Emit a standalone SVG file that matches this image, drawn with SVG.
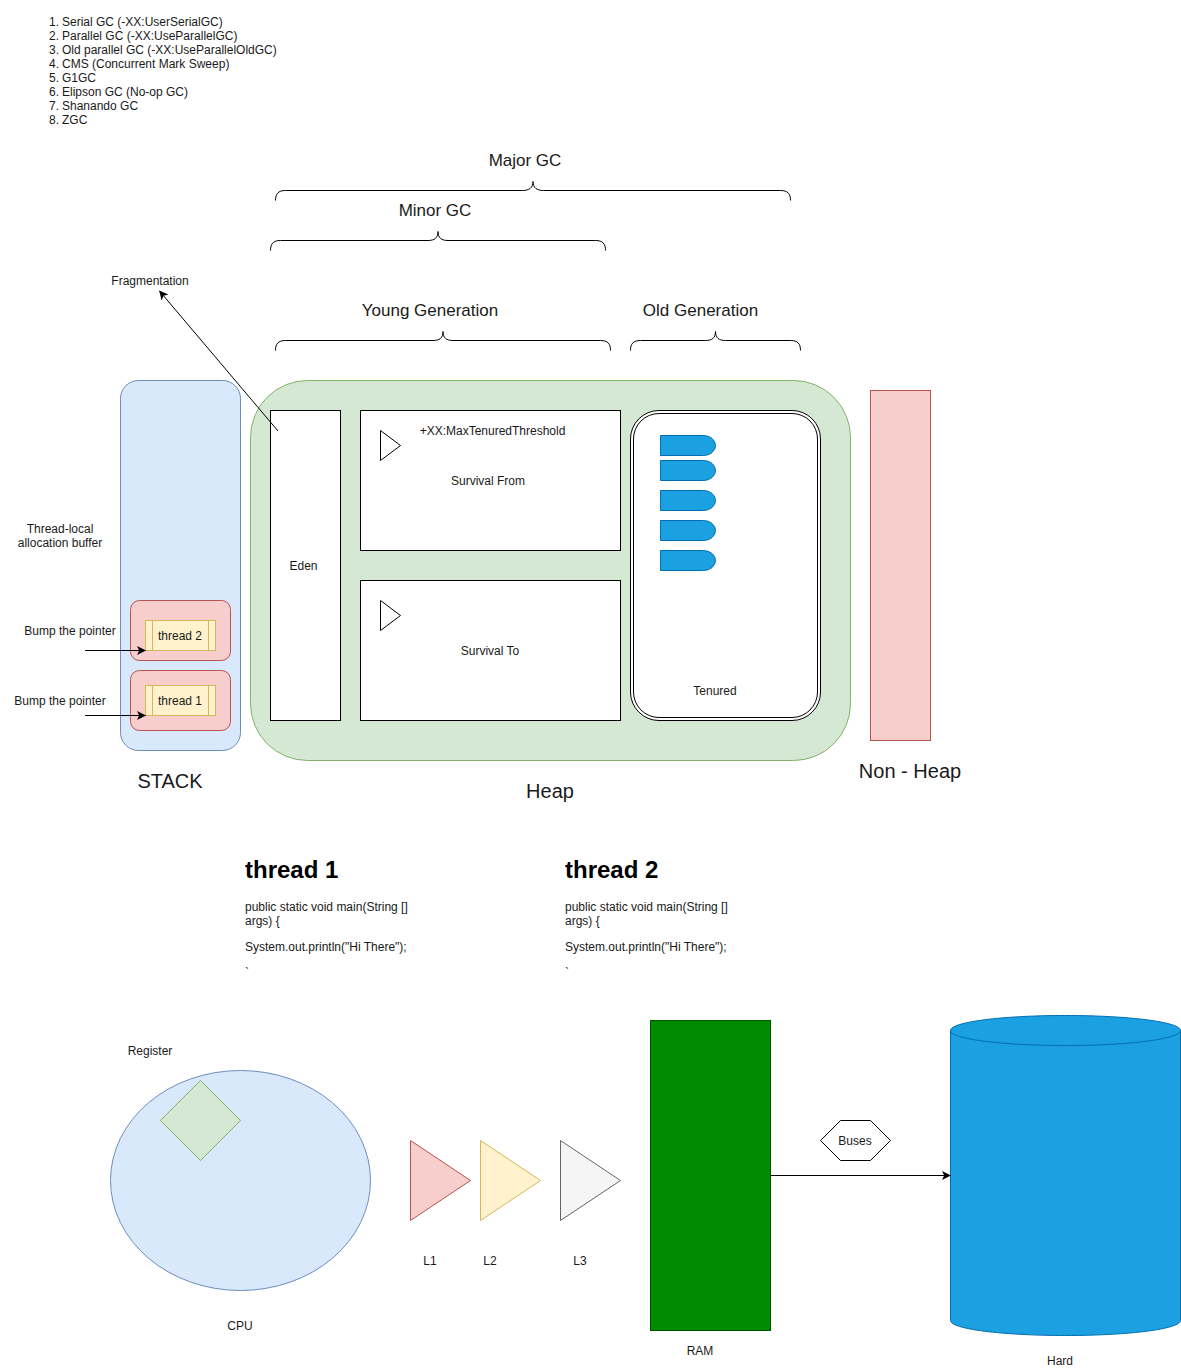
<svg xmlns="http://www.w3.org/2000/svg" width="1181" height="1371" viewBox="0 0 1181 1371">
<style>
text{font-family:"Liberation Sans",Arial,sans-serif;font-size:12px;fill:#1a1a1a}
.c{text-anchor:middle}
.l{font-size:17px}
.x{font-size:20px}
.h{font-size:24px;font-weight:bold;fill:#000}
.b{fill:#fff;stroke:#000}
.n{fill:none;stroke:#000}
.blue{fill:#1ba1e2;stroke:#006eaf}
.red{fill:#f8cecc;stroke:#b85450}
.grn{fill:#d5e8d4;stroke:#82b366}
.sky{fill:#dae8fc;stroke:#6c8ebf}
.yel{fill:#fff2cc;stroke:#d6b656}
.arr{fill:none;stroke:#000;marker-end:url(#a)}
</style>
<defs><marker id="a" markerUnits="userSpaceOnUse" markerWidth="10" markerHeight="10" refX="8.5" refY="4.5" orient="auto"><path d="M0 0L9 4.500L0 9L2.200 4.500Z" fill="#000"/></marker></defs>
<rect width="1181" height="1371" fill="#fff"/>
<g id="gc-list">
<text x="49" y="26">1.</text><text x="62" y="26">Serial GC (-XX:UserSerialGC)</text>
<text x="49" y="40">2.</text><text x="62" y="40">Parallel GC (-XX:UseParallelGC)</text>
<text x="49" y="54">3.</text><text x="62" y="54">Old parallel GC (-XX:UseParallelOldGC)</text>
<text x="49" y="68">4.</text><text x="62" y="68">CMS (Concurrent Mark Sweep)</text>
<text x="49" y="82">5.</text><text x="62" y="82">G1GC</text>
<text x="49" y="96">6.</text><text x="62" y="96">Elipson GC (No-op GC)</text>
<text x="49" y="110">7.</text><text x="62" y="110">Shanando GC</text>
<text x="49" y="124">8.</text><text x="62" y="124">ZGC</text>
</g>
<g id="major-gc"><text class="l c" x="525" y="166">Major GC</text><path class="n" d="M275.5 200.5C275.5 194 278 190.5 285.5 190.5L522.5 190.5C529 190.5 533 188 533 181.5C533 188 537 190.5 543.5 190.5L780.5 190.5C788 190.5 790.5 194 790.5 200.5"/></g>
<g id="minor-gc"><text class="l c" x="435" y="216">Minor GC</text><path class="n" d="M270.5 250.5C270.5 244 273 240.5 280.5 240.5L428 240.5C434.5 240.5 438 238 438 231.5C438 238 441.5 240.5 448 240.5L595.5 240.5C603 240.5 605.5 244 605.5 250.5"/></g>
<g id="young-generation"><text class="l c" x="430" y="316">Young Generation</text><path class="n" d="M275.5 350.5C275.5 344 278 340.5 285.5 340.5L433 340.5C439.5 340.5 443 338 443 331.5C443 338 446.5 340.5 453 340.5L600.5 340.5C608 340.5 610.5 344 610.5 350.5"/></g>
<g id="old-generation"><text class="l c" x="700.500" y="316">Old Generation</text><path class="n" d="M630.5 350.5C630.5 344 633 340.5 640.5 340.5L705.5 340.5C712 340.5 715.5 338 715.5 331.5C715.5 338 719 340.5 725.5 340.5L790.5 340.5C798 340.5 800.5 344 800.5 350.5"/></g>
<g id="fragmentation"><text class="c" x="150" y="285">Fragmentation</text></g>
<g id="stack"><rect class="sky" x="120.5" y="380.5" width="120" height="370" rx="18" ry="18"/><text class="x c" x="170" y="788">STACK</text></g>
<g id="heap"><rect class="grn" x="250.5" y="380.5" width="600" height="380" rx="57" ry="57"/><text class="x c" x="550" y="798">Heap</text></g>
<g id="non-heap"><rect class="red" x="870.5" y="390.5" width="60" height="350"/><text class="x c" x="910" y="778">Non - Heap</text></g>
<g id="eden"><rect class="b" x="270.5" y="410.5" width="70" height="310"/><text class="c" x="303.500" y="570">Eden</text></g>
<g id="survival-from"><rect class="b" x="360.5" y="410.500" width="260" height="140"/><path class="b" d="M380.500 430.500L400.500 445.500L380.500 460.500Z"/><text class="c" x="492.500" y="435">+XX:MaxTenuredThreshold</text><text class="c" x="488" y="485">Survival From</text></g>
<g id="survival-to"><rect class="b" x="360.5" y="580.5" width="260" height="140"/><path class="b" d="M380.500 600.500L400.500 615.500L380.500 630.500Z"/><text class="c" x="490" y="655">Survival To</text></g>
<g id="tenured"><rect class="b" x="630.5" y="410.5" width="190" height="310" rx="28.500" ry="28.500"/><rect class="n" x="633.5" y="413.500" width="184" height="304" rx="25.500" ry="25.500"/><text class="c" x="715" y="695">Tenured</text></g>
<g id="tenured-blocks">
<path class="blue" d="M660.500 435.500H703.500A12 10 0 0 1 715.500 445.500A12 10 0 0 1 703.500 455.500H660.500Z"/>
<path class="blue" d="M660.500 460.500H703.500A12 10 0 0 1 715.500 470.500A12 10 0 0 1 703.500 480.500H660.500Z"/>
<path class="blue" d="M660.500 490.500H703.500A12 10 0 0 1 715.500 500.500A12 10 0 0 1 703.500 510.500H660.500Z"/>
<path class="blue" d="M660.500 520.500H703.500A12 10 0 0 1 715.500 530.500A12 10 0 0 1 703.500 540.500H660.500Z"/>
<path class="blue" d="M660.500 550.500H703.500A12 10 0 0 1 715.500 560.500A12 10 0 0 1 703.500 570.500H660.500Z"/>
</g>
<g id="tlab-label"><text class="c" x="60" y="533">Thread-local</text><text class="c" x="60" y="547">allocation buffer</text></g>
<g id="thread-2-box"><rect class="red" x="130.5" y="600.5" width="100" height="60" rx="9" ry="9"/><rect class="yel" x="145.5" y="620.5" width="70" height="30"/><path class="yel" d="M152.500 620.500V650.500M208.500 620.500V650.500"/><text class="c" x="180" y="640">thread 2</text></g>
<g id="thread-1-box"><rect class="red" x="130.5" y="670.5" width="100" height="60" rx="9" ry="9"/><rect class="yel" x="145.5" y="685.5" width="70" height="30"/><path class="yel" d="M152.500 685.500V715.500M208.500 685.500V715.500"/><text class="c" x="180" y="705">thread 1</text></g>
<g id="bump-labels"><text class="c" x="70" y="635">Bump the pointer</text><text class="c" x="60" y="705">Bump the pointer</text></g>
<g id="thread-1-code"><text class="h" x="245" y="878">thread 1</text><text x="245" y="911">public static void main(String []</text><text x="245" y="925">args) {</text><text x="245" y="951">System.out.println("Hi There");</text><text x="245" y="977">`</text></g>
<g id="thread-2-code"><text class="h" x="565" y="878">thread 2</text><text x="565" y="911">public static void main(String []</text><text x="565" y="925">args) {</text><text x="565" y="951">System.out.println("Hi There");</text><text x="565" y="977">`</text></g>
<g id="cpu"><ellipse class="sky" cx="240.500" cy="1180.500" rx="130" ry="110"/><text class="c" x="240" y="1330">CPU</text></g>
<g id="register"><path class="grn" d="M200.500 1080.500L240.500 1120.500L200.500 1160.500L160.500 1120.500Z"/><text class="c" x="150" y="1055">Register</text></g>
<g id="l1"><path class="red" d="M410.500 1140.500L470.500 1180.500L410.500 1220.500Z"/><text class="c" x="430" y="1265">L1</text></g>
<g id="l2"><path class="yel" d="M480.500 1140.500L540.500 1180.500L480.500 1220.500Z"/><text class="c" x="490" y="1265">L2</text></g>
<g id="l3"><path fill="#f5f5f5" stroke="#666" d="M560.500 1140.500L620.500 1180.500L560.500 1220.500Z"/><text class="c" x="580" y="1265">L3</text></g>
<g id="ram"><rect x="650.500" y="1020.500" width="120" height="310" fill="#008a00" stroke="#005700"/><text class="c" x="700" y="1355">RAM</text></g>
<g id="buses"><path class="b" d="M820.500 1140.500L840.500 1120.500H870.500L890.500 1140.500L870.500 1160.500H840.500Z"/><text class="c" x="855" y="1145">Buses</text></g>
<g id="hard"><path class="blue" d="M950.500 1030.500C950.500 1022 1002 1015.500 1065.500 1015.500C1129 1015.500 1180.500 1022 1180.500 1030.500V1320.500C1180.500 1329 1129 1335.500 1065.500 1335.500C1002 1335.500 950.500 1329 950.500 1320.500Z"/><path style="fill:none;stroke:#006eaf" d="M950.500 1030.500C950.500 1039 1002 1045.500 1065.500 1045.500C1129 1045.500 1180.500 1039 1180.500 1030.500"/><text class="c" x="1060" y="1365">Hard</text></g>
<g id="connectors">
<path class="arr" d="M278 431L159.500 291"/>
<path class="arr" d="M85 650.500H145.500"/>
<path class="arr" d="M85 715.500H145.500"/>
<path class="arr" d="M770.500 1175.500H950.500"/>
</g>
</svg>
